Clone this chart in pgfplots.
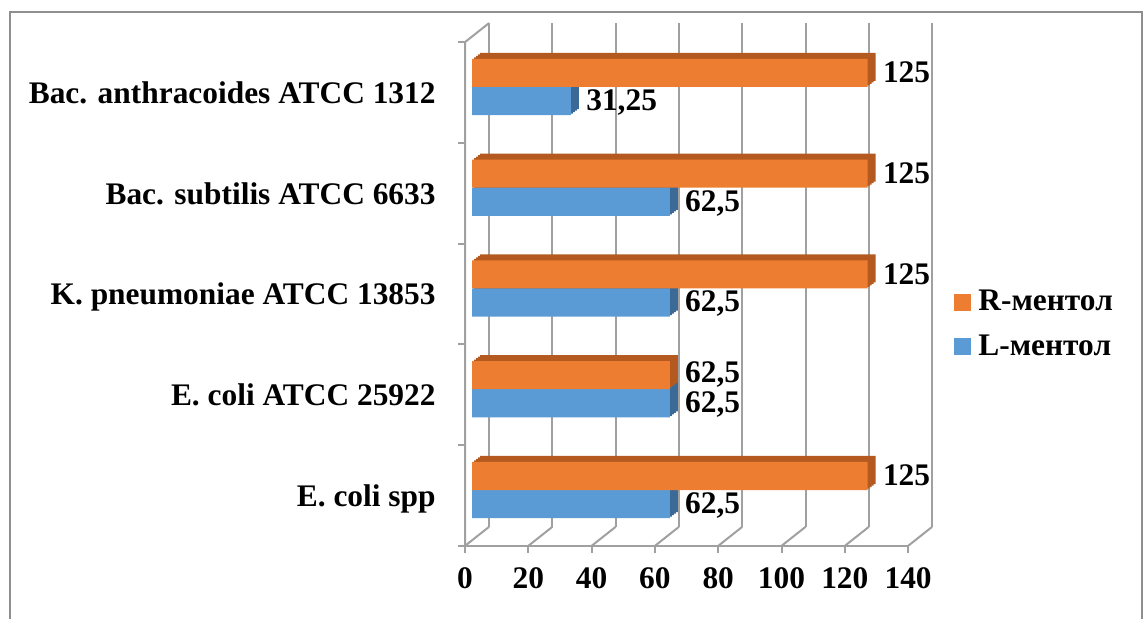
\documentclass[border=0pt]{standalone}
\usepackage{fontspec}
\setmainfont{Liberation Serif}
\usepackage{pgfplots}
\pgfplotsset{compat=1.18}
\usepackage{pgfplotstable}

\definecolor{orangefront}{HTML}{ED7D31}
\definecolor{orangeside}{HTML}{B45A20}
\definecolor{bluefront}{HTML}{5B9BD5}
\definecolor{blueside}{HTML}{3C6A96}
\definecolor{gridgray}{HTML}{A0A0A0}
\definecolor{framegray}{HTML}{8F8F8F}

\newcommand\chartfont{\fontsize{15.7}{18}\selectfont\bfseries}

% MIC values per strain (0 = bottom row)
\pgfplotstableread{
pos L R
0 62.5 125
1 62.5 62.5
2 62.5 125
3 62.5 125
4 31.25 125
}\mic

\begin{document}
\begin{tikzpicture}
\useasboundingbox (0pt,-309.5pt) rectangle (572pt,0pt);
% outer chart frame
\draw[framegray, line width=1pt] (5pt,-309.5pt) -- (5pt,-6pt) -- (571pt,-6pt) -- (571pt,-309.5pt);

\begin{axis}[
  at={(236pt,-270.1875pt)}, anchor=south west,
  x=1.5825pt, y=50.375pt,
  xmin=0, xmax=140, ymin=-0.5, ymax=4.5,
  clip=false,
  axis line style={draw=none},
  tick style={draw=none},
  xtick={0,20,...,140},
  ytick={0,...,4},
  yticklabels={E. coli spp, E. coli ATCC 25922, K. pneumoniae ATCC 13853, Bac. subtilis ATCC 6633, Bac. anthracoides ATCC 1312},
  /pgf/number format/assume math mode=true,
  /pgf/number format/use comma,
  xticklabel style={font=\chartfont, anchor=base, inner sep=0pt, xshift=-3.5pt, yshift=-24.3pt},
  yticklabel style={font=\chartfont, anchor=base east, inner sep=0pt, xshift=-18pt, yshift=-8.25pt},
  legend style={at={(1.0878,0.4285)}, anchor=west, draw=none, fill=none,
    inner sep=0pt, font=\chartfont, row sep=10.6pt, nodes={inner sep=0pt}},
  legend cell align=left,
  reverse legend,
  every node near coord/.append style={font=\chartfont, anchor=west, inner sep=0pt, xshift=7.5pt, text=black},
]

% 3-D frame: back wall, floor and left wall
\pgfplotsinvokeforeach{0,20,...,140}{
  \draw[gridgray, line width=1pt] ([shift={(8.5pt,6.75pt)}]axis cs:#1,-0.5) -- ([shift={(8.5pt,6.75pt)}]axis cs:#1,4.5);
  \draw[gridgray, line width=1pt] ([shift={(-3.5pt,-2.75pt)}]axis cs:#1,-0.5) -- ([shift={(8.5pt,6.75pt)}]axis cs:#1,-0.5);
  \draw[gridgray, line width=1pt] ([shift={(-3.5pt,-2.75pt)}]axis cs:#1,-0.5) -- ([shift={(-3.5pt,-6.25pt)}]axis cs:#1,-0.5);
}
\draw[gridgray, line width=1pt] ([shift={(-3.5pt,-2.75pt)}]axis cs:0,-0.5) -- ([shift={(-3.5pt,-2.75pt)}]axis cs:140,-0.5);
\draw[gridgray, line width=1pt] ([shift={(-3.5pt,-2.75pt)}]axis cs:0,-0.5) -- ([shift={(-3.5pt,-2.75pt)}]axis cs:0,4.5) -- ([shift={(8.5pt,6.75pt)}]axis cs:0,4.5);
\pgfplotsinvokeforeach{-0.5,0.5,1.5,2.5,3.5,4.5}{
  \draw[gridgray, line width=1pt] ([shift={(-3.5pt,-2.75pt)}]axis cs:0,#1) -- ([shift={(-7pt,-2.75pt)}]axis cs:0,#1);
}

% L-menthol: depth faces, then front face
\addplot[xbar, bar width=0.278, bar shift=-0.139, fill=blueside, draw=none, forget plot, xshift=4pt, yshift=3pt] table[x=L,y=pos]{\mic};
\addplot[xbar, bar width=0.278, bar shift=-0.139, fill=blueside, draw=none, forget plot, xshift=3pt, yshift=2.25pt] table[x=L,y=pos]{\mic};
\addplot[xbar, bar width=0.278, bar shift=-0.139, fill=blueside, draw=none, forget plot, xshift=2pt, yshift=1.5pt] table[x=L,y=pos]{\mic};
\addplot[xbar, bar width=0.278, bar shift=-0.139, fill=blueside, draw=none, forget plot, xshift=1pt, yshift=0.75pt] table[x=L,y=pos]{\mic};
\addplot[xbar, bar width=0.278, bar shift=-0.139, fill=bluefront, draw=none,
  point meta=x, nodes near coords,
  every node near coord/.append style={yshift=-7.7pt},
  legend image code/.code={\fill[bluefront] (0pt,-4.25pt) rectangle (8.5pt,4.25pt); \path (12pt,0pt);}] table[x=L,y=pos]{\mic};
\addlegendentry{L-ментол}

% R-menthol: depth faces, then front face
\addplot[xbar, bar width=0.278, bar shift=0.139, fill=orangeside, draw=none, forget plot, xshift=4pt, yshift=3pt] table[x=R,y=pos]{\mic};
\addplot[xbar, bar width=0.278, bar shift=0.139, fill=orangeside, draw=none, forget plot, xshift=3pt, yshift=2.25pt] table[x=R,y=pos]{\mic};
\addplot[xbar, bar width=0.278, bar shift=0.139, fill=orangeside, draw=none, forget plot, xshift=2pt, yshift=1.5pt] table[x=R,y=pos]{\mic};
\addplot[xbar, bar width=0.278, bar shift=0.139, fill=orangeside, draw=none, forget plot, xshift=1pt, yshift=0.75pt] table[x=R,y=pos]{\mic};
\addplot[xbar, bar width=0.278, bar shift=0.139, fill=orangefront, draw=none,
  point meta=x, nodes near coords,
  every node near coord/.append style={yshift=7.2pt},
  legend image code/.code={\fill[orangefront] (0pt,-4.25pt) rectangle (8.5pt,4.25pt); \path (12pt,0pt);}] table[x=R,y=pos]{\mic};
\addlegendentry{R-ментол}
\end{axis}
\end{tikzpicture}
\end{document}
